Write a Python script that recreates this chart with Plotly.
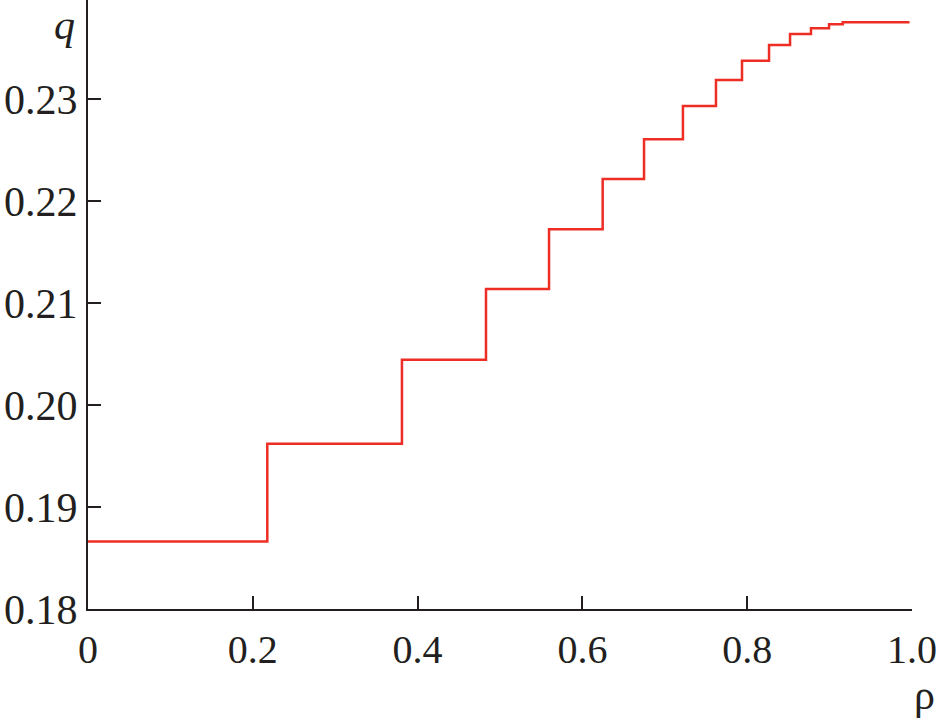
import plotly.graph_objects as go

# step start positions (rho) and the level of q on each step
rho_steps = [0.0, 0.2176, 0.381, 0.483, 0.5595, 0.6246, 0.6748, 0.722, 0.7621,
             0.7937, 0.8265, 0.852, 0.8774, 0.8993, 0.9159]
q_levels = [0.18662, 0.19620, 0.20443, 0.21138, 0.21723, 0.22216, 0.22605, 0.22931,
            0.23186, 0.23375, 0.23529, 0.23637, 0.23693, 0.23732, 0.23751]
rho_end = 0.997

x_ticks = [0, 0.2, 0.4, 0.6, 0.8, 1.0]
x_ticklabels = ["0", "0.2", "0.4", "0.6", "0.8", "1.0"]
y_ticks = [0.18, 0.19, 0.20, 0.21, 0.22, 0.23]
y_ticklabels = ["0.18", "0.19", "0.20", "0.21", "0.22", "0.23"]

xs = rho_steps + [rho_end]
ys = q_levels + [q_levels[-1]]

font_family = "Liberation Serif"
axis_color = "#231f20"
fsize = 42

fig = go.Figure()
fig.add_trace(go.Scatter(
    x=xs, y=ys, mode="lines", line=dict(color="#ee2e24", width=2.5, shape="hv"),
    showlegend=False, hoverinfo="skip"))

fig.update_layout(
    width=937, height=718,
    margin=dict(l=88, r=25, t=0, b=109, autoexpand=False),
    paper_bgcolor="white", plot_bgcolor="white",
    font=dict(family=font_family, size=fsize, color=axis_color),
    xaxis=dict(range=[0, 1.0], tickvals=x_ticks, ticktext=x_ticklabels,
               ticks="inside", ticklen=13, tickwidth=2, tickcolor=axis_color,
               showline=True, linecolor=axis_color, linewidth=2, automargin=False,
               tickfont=dict(size=40), ticklabeloverflow="allow",
               showgrid=False, zeroline=False, ticklabelstandoff=4),
    yaxis=dict(range=[0.18, 0.2397], tickvals=y_ticks, ticktext=y_ticklabels,
               ticks="inside", ticklen=13, tickwidth=2, tickcolor=axis_color,
               showline=True, linecolor=axis_color, linewidth=2, automargin=False,
               showgrid=False, zeroline=False, ticklabelstandoff=0),
    annotations=[
        dict(text="<i>q</i>", xref="paper", yref="paper", x=-0.0133, y=1.0,
             xanchor="right", yanchor="top", showarrow=False,
             font=dict(family=font_family, size=fsize, color=axis_color)),
        dict(text="ρ", xref="paper", yref="paper", x=1.015, y=-0.1002,
             xanchor="center", yanchor="top", showarrow=False,
             font=dict(family=font_family, size=fsize, color=axis_color)),
    ],
)

fig.write_html("out.html", config={"displayModeBar": False},
               post_script="document.body.style.margin='0';document.body.style.overflow='hidden';")
